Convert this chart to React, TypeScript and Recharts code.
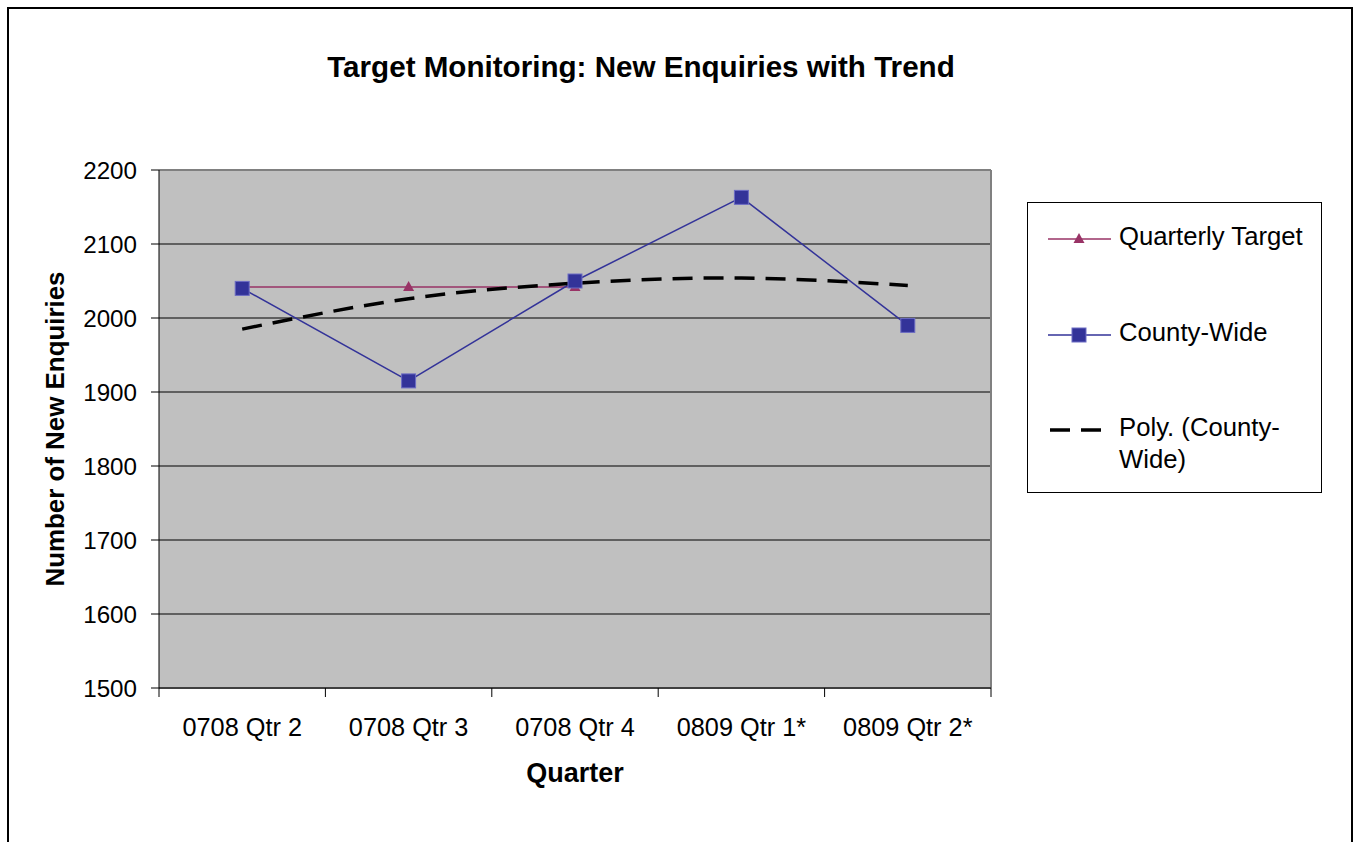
import React from "react";
import { CartesianGrid, Legend, Line, LineChart, ReferenceLine, XAxis, YAxis } from "recharts";

const quarters = ["0708 Qtr 2", "0708 Qtr 3", "0708 Qtr 4", "0809 Qtr 1*", "0809 Qtr 2*"];
const quarterlyTarget = [2042, 2042, 2042, null, null];
const countyWide = [2040, 1915, 2050, 2163, 1990];
const polyTrend = [1985, 2026, 2047, 2054, 2044];
const yTicks = [1500, 1600, 1700, 1800, 1900, 2000, 2100, 2200];
const categoryTicks = [1, 2, 3, 4, 5];
const boundaryTicks = [0.5, 1.5, 2.5, 3.5, 4.5, 5.5];

const data = quarters.map((q, i) => ({
  x: i + 1,
  quarter: q,
  target: quarterlyTarget[i],
  county: countyWide[i],
  trend: polyTrend[i],
}));

const FONT = "'Liberation Sans', Arial, sans-serif";

const SquareDot = (props: any) => {
  const { cx, cy } = props;
  if (cx == null || cy == null) return null;
  return <rect x={cx - 7} y={cy - 7} width={14} height={14} fill="#333399" stroke="#6c6cc4" strokeWidth={1} />;
};

const TriangleDot = (props: any) => {
  const { cx, cy, value } = props;
  if (cx == null || cy == null || value == null) return null;
  return <path d={`M${cx},${cy - 6} L${cx + 5.5},${cy + 4} L${cx - 5.5},${cy + 4} Z`} fill="#993366" />;
};

// top offset of each legend row inside the box
const legendRows: Record<string, number> = { target: 17, county: 113, trend: 208 };

const renderLegend = (props: any) => {
  const { payload } = props;
  return (
    <div
      style={{
        position: "relative",
        width: 295,
        height: 291,
        border: "1px solid #000",
        background: "#fff",
        boxSizing: "border-box",
        fontFamily: FONT,
        fontSize: 25.7,
        color: "#000",
      }}
    >
      {payload.map((entry: any) => {
        const key = entry.dataKey as string;
        const top = legendRows[key];
        return (
          <div key={key} style={{ position: "absolute", left: 20, top, display: "flex", alignItems: "flex-start" }}>
            <svg width={64} height={28} style={{ flex: "none", marginTop: 5 }}>
              {key === "trend" ? (
                <line x1={2} y1={14} x2={62} y2={14} stroke="#000" strokeWidth={3.5} strokeDasharray="20 11" />
              ) : (
                <line x1={0} y1={14} x2={63} y2={14} stroke={entry.color} strokeWidth={1.5} />
              )}
              {key === "target" && <path d="M31,8 L36.5,18 L25.5,18 Z" fill="#993366" />}
              {key === "county" && <rect x={24} y={7} width={14} height={14} fill="#333399" stroke="#6c6cc4" />}
            </svg>
            <span style={{ marginLeft: 7, width: 195, lineHeight: "32px" }}>{entry.value}</span>
          </div>
        );
      })}
    </div>
  );
};

export default function App() {
  return (
    <div
      style={{
        position: "absolute",
        left: 7,
        top: 7,
        width: 1346,
        height: 850,
        border: "2px solid #000",
        boxSizing: "border-box",
        background: "#fff",
      }}
    >
      <div
        style={{
          position: "absolute",
          left: 0,
          top: 44,
          width: 1264,
          textAlign: "center",
          fontFamily: FONT,
          fontWeight: "bold",
          fontSize: 29.6,
          lineHeight: "28px",
          color: "#000",
        }}
      >
        Target Monitoring: New Enquiries with Trend
      </div>
      <LineChart width={1341} height={833} data={data} margin={{ top: 161, right: 359, bottom: 54, left: 20 }}>
        <CartesianGrid vertical={false} stroke="#000" strokeWidth={1} fill="#c0c0c0" fillOpacity={1} />
        <XAxis
          xAxisId="grid"
          type="number"
          dataKey="x"
          domain={[0.5, 5.5]}
          ticks={boundaryTicks}
          tickFormatter={() => ""}
          tickSize={9}
          height={1}
          axisLine={{ stroke: "#404040", strokeWidth: 2 }}
          tickLine={{ stroke: "#000" }}
        />
        <XAxis
          xAxisId="lbl"
          type="number"
          dataKey="x"
          domain={[0.5, 5.5]}
          ticks={categoryTicks}
          tickFormatter={(v: number) => quarters[v - 1]}
          tickLine={false}
          axisLine={false}
          tickSize={9}
          tickMargin={20}
          height={99}
          tick={{ fill: "#000", fontSize: 25.3, fontFamily: FONT }}
          label={{
            value: "Quarter",
            position: "insideBottom",
            offset: 6,
            fill: "#000",
            fontSize: 27,
            fontWeight: "bold",
            fontFamily: FONT,
          }}
        />
        <YAxis
          type="number"
          domain={[1500, 2200]}
          ticks={yTicks}
          allowDataOverflow
          width={130}
          tickSize={8}
          tickMargin={14}
          axisLine={{ stroke: "#000" }}
          tickLine={{ stroke: "#000" }}
          tick={{ fill: "#000", fontSize: 24.2, fontFamily: FONT }}
          label={{
            value: "Number of New Enquiries",
            angle: -90,
            position: "insideLeft",
            offset: 26,
            textAnchor: "middle",
            fill: "#000",
            fontSize: 25.9,
            fontWeight: "bold",
            fontFamily: FONT,
          }}
        />
        <ReferenceLine xAxisId="lbl" y={2200} stroke="#808080" strokeWidth={2} />
        <ReferenceLine xAxisId="lbl" x={5.5} stroke="#808080" strokeWidth={2} />
        <Legend
          layout="vertical"
          align="center"
          verticalAlign="middle"
          content={renderLegend}
          wrapperStyle={{ left: 1018, top: 193, width: 295, height: 291 }}
        />
        <Line
          xAxisId="lbl"
          dataKey="target"
          name="Quarterly Target"
          stroke="#993366"
          strokeWidth={1.5}
          dot={<TriangleDot />}
          connectNulls={false}
          isAnimationActive={false}
        />
        <Line
          xAxisId="lbl"
          dataKey="county"
          name="County-Wide"
          stroke="#333399"
          strokeWidth={1.5}
          dot={<SquareDot />}
          isAnimationActive={false}
        />
        <Line
          xAxisId="lbl"
          dataKey="trend"
          name="Poly. (County-Wide)"
          type="natural"
          stroke="#000"
          strokeWidth={3.5}
          strokeDasharray="20 11"
          dot={false}
          isAnimationActive={false}
        />
      </LineChart>
    </div>
  );
}
